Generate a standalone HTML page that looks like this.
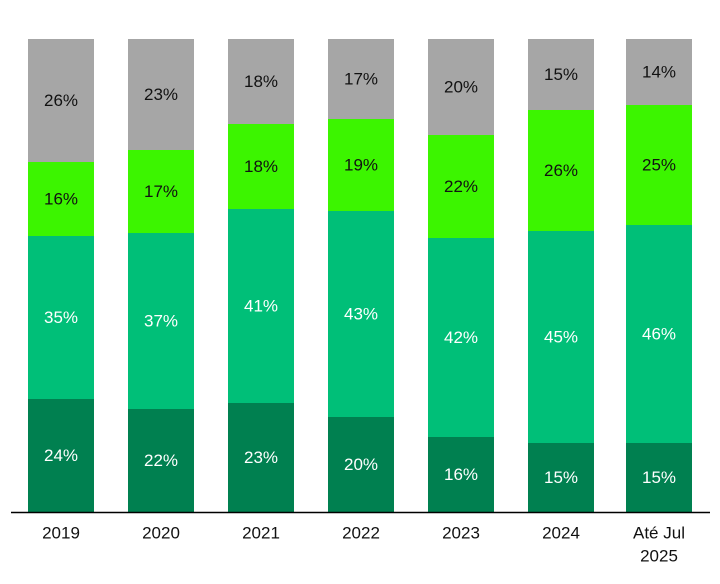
<!DOCTYPE html>
<html><head><meta charset="utf-8"><style>body{margin:0;background:#fff}svg{display:block}text{font-family:"Liberation Sans",sans-serif;font-size:17px;text-anchor:middle;dominant-baseline:central}</style></head><body>
<svg width="720" height="584" xmlns="http://www.w3.org/2000/svg">
<g id="bars"></g>
<line x1="11" y1="512.5" x2="710" y2="512.5" stroke="#000" stroke-width="1.5"/>
</svg>
<script>
var d=[[28,[162,236,399],["26%","16%","35%","24%"],"2019"],
[128,[150,233,409],["23%","17%","37%","22%"],"2020"],
[228,[124,209,403],["18%","18%","41%","23%"],"2021"],
[328,[119,211,417],["17%","19%","43%","20%"],"2022"],
[428,[135,238,437],["20%","22%","42%","16%"],"2023"],
[528,[110,231,443],["15%","26%","45%","15%"],"2024"],
[626,[105,225,443],["14%","25%","46%","15%"],""]];
var cols=["#a6a6a6","#3cf500","#00bf78","#008050"],tc=["#111","#111","#fff","#fff"];
var s="";
d.forEach(function(b){var ys=[39].concat(b[1]).concat([512]);var cx=b[0]+33;
for(var i=0;i<4;i++){s+='<rect x="'+b[0]+'" y="'+ys[i]+'" width="66" height="'+(ys[i+1]-ys[i])+'" fill="'+cols[i]+'"/>';
s+='<text x="'+cx+'" y="'+((ys[i]+ys[i+1])/2)+'" fill="'+tc[i]+'">'+b[2][i]+'</text>';}
if(b[3])s+='<text x="'+cx+'" y="533" fill="#111">'+b[3]+'</text>';
else s+='<text x="'+cx+'" y="533" fill="#111">Até Jul</text><text x="'+cx+'" y="556" fill="#111">2025</text>';});
document.getElementById("bars").innerHTML=s;
</script>
</body></html>
